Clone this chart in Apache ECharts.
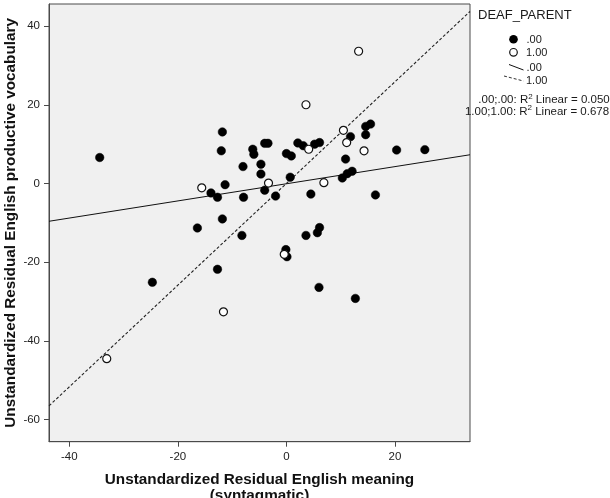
<!DOCTYPE html>
<html>
<head>
<meta charset="utf-8">
<script src="https://cdn.jsdelivr.net/npm/echarts@6/dist/echarts.min.js"></script>
<style>
html,body{margin:0;padding:0;background:#fff;}
#chart{width:610px;height:498px;}
</style>
</head>
<body>
<div id="chart"></div>
<script>
// DEAF_PARENT = .00 (filled circles): [x, y]
var group00 = [
  [-34.4, 6.6], [-11.8, 13.1], [-12.0, 8.3], [-6.2, 8.7], [-6.0, 7.4],
  [-8.0, 4.3], [-4.7, 4.9], [-4.7, 2.4], [-4.0, 10.2], [-3.4, 10.2],
  [-13.9, -2.4], [-12.7, -3.5], [-11.3, -0.3], [-7.9, -3.5], [-11.8, -9.0],
  [-16.4, -11.3], [-8.2, -13.2], [-12.7, -21.8], [-24.7, -25.1], [6.0, -26.4],
  [12.7, -29.2], [14.6, 14.5], [15.5, 15.1], [11.8, 11.9], [14.6, 12.4],
  [20.3, 8.5], [25.5, 8.6], [10.9, 6.2], [12.1, 3.1], [11.2, 2.5],
  [10.3, 1.4], [4.5, -2.7], [16.4, -2.9], [2.1, 10.3], [3.1, 9.6],
  [5.2, 10.0], [6.1, 10.4], [0.0, 7.6], [0.9, 7.0], [0.7, 1.6],
  [-4.0, -1.7], [-2.0, -3.2], [3.6, -13.2], [5.7, -12.5], [6.1, -11.2],
  [-0.1, -16.8], [0.1, -18.6]
];
// DEAF_PARENT = 1.00 (open circles): [x, y]
var group100 = [
  [13.3, 33.6], [3.6, 20.0], [10.5, 13.5], [11.1, 10.4], [14.3, 8.3],
  [4.1, 8.7], [6.9, 0.2], [-15.6, -1.1], [-3.3, 0.1], [-0.4, -18.0],
  [-11.6, -32.6], [-33.1, -44.5]
];
// Fit line endpoints
var fit00 = [[-43.74, -9.6], [33.82, 7.3]];
var fit100 = [[-43.74, -56.5], [33.82, 43.7]];

var xTicks = [-40, -20, 0, 20];
var yTicks = [-60, -40, -20, 0, 20, 40];
var xRange = [-43.74, 33.82];
var yRange = [-65.6, 45.6];

var legendTitle = 'DEAF_PARENT';
var legendLabels = ['.00', '1.00', '.00', '1.00'];
var r2Lines = ['.00;.00: R{sup|2} Linear = 0.050', '1.00;1.00: R{sup|2} Linear = 0.678'];
var xName = 'Unstandardized Residual English meaning\n(syntagmatic)';
var yName = 'Unstandardized Residual English productive vocabulary';

var FONT = 'Liberation Sans, Arial, sans-serif';
var chart = echarts.init(document.getElementById('chart'), null, {renderer: 'canvas'});

var legendText = {fontFamily: FONT, fontSize: 11, fill: '#1a1a1a', textVerticalAlign: 'middle'};

chart.setOption({
  animation: false,
  backgroundColor: '#ffffff',
  grid: {left: 49, top: 4, right: 140, bottom: 56.3, show: true, containLabel: false,
         outerBoundsMode: 'none',
         backgroundColor: '#f0f0f0', borderColor: '#4a4a4a', borderWidth: 1},
  xAxis: {
    type: 'value', min: xRange[0], max: xRange[1],
    name: xName, nameLocation: 'middle', nameGap: 30, nameMoveOverlap: false,
    nameTextStyle: {fontFamily: FONT, fontSize: 15.3, fontWeight: 'bold', color: '#111', lineHeight: 16},
    axisLine: {show: true, onZero: false, lineStyle: {color: '#4a4a4a', width: 1}},
    axisTick: {show: true, length: 5, inside: false, customValues: xTicks, lineStyle: {color: '#4a4a4a'}},
    axisLabel: {customValues: xTicks, margin: 9, fontFamily: FONT, fontSize: 11.5, color: '#222'},
    splitLine: {show: false}
  },
  yAxis: {
    type: 'value', min: yRange[0], max: yRange[1],
    name: yName, nameLocation: 'middle', nameGap: 31, nameRotate: 90, nameMoveOverlap: false,
    nameTextStyle: {fontFamily: FONT, fontSize: 15.3, fontWeight: 'bold', color: '#111'},
    axisLine: {show: true, onZero: false, lineStyle: {color: '#4a4a4a', width: 1}},
    axisTick: {show: true, length: 5, inside: false, customValues: yTicks, lineStyle: {color: '#4a4a4a'}},
    axisLabel: {customValues: yTicks, margin: 9, fontFamily: FONT, fontSize: 11.5, color: '#222'},
    splitLine: {show: false}
  },
  series: [
    {type: 'line', data: fit00, symbol: 'none', silent: true, z: 2,
     lineStyle: {color: '#111', width: 1, type: 'solid'}},
    {type: 'line', data: fit100, symbol: 'none', silent: true, z: 2,
     lineStyle: {color: '#222', width: 1.1, type: [3, 2]}},
    {type: 'scatter', data: group00, symbol: 'circle', symbolSize: 8.5, z: 3,
     itemStyle: {color: '#000', opacity: 1, borderColor: '#000', borderWidth: 0.5}},
    {type: 'scatter', data: group100, symbol: 'circle', symbolSize: 8, z: 4,
     itemStyle: {color: '#fff', opacity: 1, borderColor: '#111', borderWidth: 1.2}}
  ],
  graphic: [
    {type: 'text', left: 478, top: 9, style: {text: legendTitle, fontFamily: FONT, fontSize: 13, fill: '#1a1a1a'}},
    {type: 'circle', shape: {cx: 513.5, cy: 39.3, r: 4.3}, style: {fill: '#000'}},
    {type: 'text', x: 526.5, y: 39.5, style: Object.assign({text: legendLabels[0]}, legendText)},
    {type: 'circle', shape: {cx: 513.5, cy: 52.3, r: 3.8}, style: {fill: '#fff', stroke: '#111', lineWidth: 1.2}},
    {type: 'text', x: 526, y: 52.5, style: Object.assign({text: legendLabels[1]}, legendText)},
    {type: 'line', shape: {x1: 509, y1: 64.5, x2: 523.5, y2: 70}, style: {stroke: '#111', lineWidth: 1}},
    {type: 'text', x: 526.5, y: 68, style: Object.assign({text: legendLabels[2]}, legendText)},
    {type: 'line', shape: {x1: 504, y1: 76, x2: 523.5, y2: 81}, style: {stroke: '#333', lineWidth: 1, lineDash: [3, 2]}},
    {type: 'text', x: 526, y: 81, style: Object.assign({text: legendLabels[3]}, legendText)},
    {type: 'text', x: 544, y: 100, style: {text: r2Lines[0], fontFamily: FONT, fontSize: 11.5, fill: '#1a1a1a',
      textAlign: 'center', textVerticalAlign: 'middle',
      rich: {sup: {fontFamily: FONT, fontSize: 8, fill: '#1a1a1a', padding: [0, 0, 7, 0]}}}},
    {type: 'text', x: 537, y: 111.5, style: {text: r2Lines[1], fontFamily: FONT, fontSize: 11.5, fill: '#1a1a1a',
      textAlign: 'center', textVerticalAlign: 'middle',
      rich: {sup: {fontFamily: FONT, fontSize: 8, fill: '#1a1a1a', padding: [0, 0, 7, 0]}}}}
  ]
});
</script>
</body>
</html>
